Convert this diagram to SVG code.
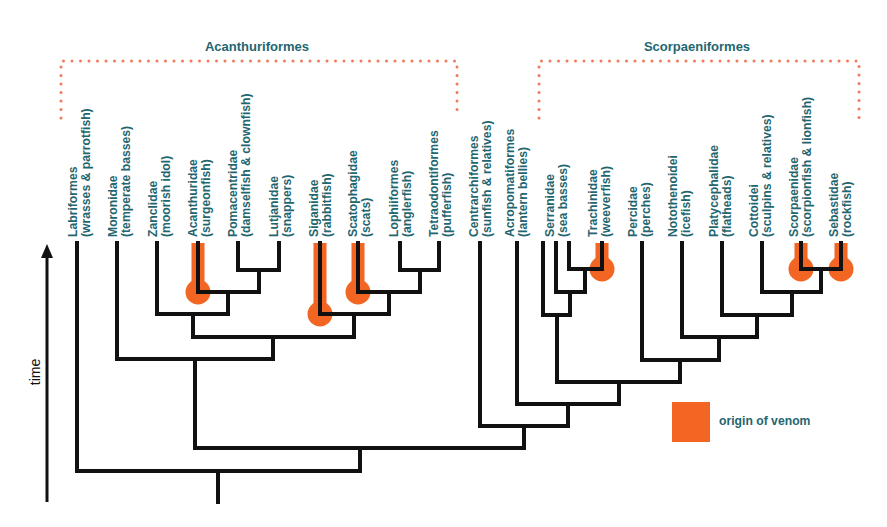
<svg xmlns="http://www.w3.org/2000/svg" width="887" height="527" viewBox="0 0 887 527">
<style>
.t{font-family:"Liberation Sans",Arial,sans-serif;font-weight:bold;font-size:12.2px;fill:#1f6670}
.h{font-family:"Liberation Sans",Arial,sans-serif;font-weight:bold;font-size:13px;fill:#1f6670;text-anchor:middle}
.e{fill:none;stroke:#111;stroke-width:4;stroke-linejoin:miter;stroke-linecap:square}
.v{stroke:#f26522;stroke-width:13;fill:none}
.c{fill:#f26522}
.d{fill:none;stroke:#f07a5a;stroke-width:3;stroke-linecap:round;stroke-dasharray:0 8.5}
</style>
<rect width="887" height="527" fill="#fff"/>
<g id="brackets">
<path class="d" d="M61 118 V61 H457 V118"/>
<path class="d" d="M539 118 V61 H859 V118"/>
<text class="h" x="257" y="51">Acanthuriformes</text>
<text class="h" x="697" y="51">Scorpaeniformes</text>
</g>
<g id="venom">
<path class="v" d="M198 243 V292 M320 243 V314 M358 243 V292 M602 243 V269 M801 243 V269 M841 243 V269"/>
<circle class="c" cx="198" cy="292" r="12.5"/>
<circle class="c" cx="320" cy="314" r="12.5"/>
<circle class="c" cx="358" cy="292" r="12.5"/>
<circle class="c" cx="602" cy="269" r="12.5"/>
<circle class="c" cx="801" cy="269" r="12.5"/>
<circle class="c" cx="841" cy="269" r="12.5"/>
</g>
<g id="connectors">
<path class="e" d="M238 243 V270 H279 V243"/>
<path class="e" d="M198 243 V292 H259 V270"/>
<path class="e" d="M157 243 V314 H228 V292"/>
<path class="e" d="M400 243 V270 H439 V243"/>
<path class="e" d="M358 243 V292 H420 V270"/>
<path class="e" d="M320 243 V314 H389 V292"/>
<path class="e" d="M193 314 V337 H354 V314"/>
<path class="e" d="M117 243 V359 H273 V337"/>
<path class="e" d="M569 243 V269 H602 V243"/>
<path class="e" d="M556 243 V292 H585 V269"/>
<path class="e" d="M543 243 V315 H570 V292"/>
<path class="e" d="M801 243 V269 H841 V243"/>
<path class="e" d="M762 243 V292 H821 V269"/>
<path class="e" d="M722 243 V315 H792 V292"/>
<path class="e" d="M682 243 V337 H757 V315"/>
<path class="e" d="M642 243 V360 H719 V337"/>
<path class="e" d="M557 315 V382 H680 V360"/>
<path class="e" d="M517 243 V404 H619 V382"/>
<path class="e" d="M480 243 V426 H568 V404"/>
<path class="e" d="M195 359 V448 H524 V426"/>
<path class="e" d="M77 243 V471 H360 V448"/>
<path class="e" d="M218 471 V502"/>
</g>
<g id="time">
<path d="M47 502 V256" stroke="#111" stroke-width="3" fill="none"/>
<path d="M47 244 L53 258 L41 258 Z" fill="#111"/>
<text transform="translate(40,372) rotate(-90)" font-family="Liberation Sans,Arial,sans-serif" font-size="14" fill="#111" text-anchor="middle">time</text>
</g>
<g id="legend">
<rect x="672" y="402" width="38" height="40" fill="#f26522"/>
<text class="t" x="719" y="425" font-size="14">origin of venom</text>
</g>
<g id="labels">
<g transform="translate(77,237) rotate(-90)"><text class="t">Labriformes</text><text class="t" y="13">(wrasses &amp; parrotfish)</text></g>
<g transform="translate(117,237) rotate(-90)"><text class="t">Moronidae</text><text class="t" y="13">(temperate basses)</text></g>
<g transform="translate(157,237) rotate(-90)"><text class="t">Zanclidae</text><text class="t" y="13">(moorish idol)</text></g>
<g transform="translate(197,237) rotate(-90)"><text class="t">Acanthuridae</text><text class="t" y="13">(surgeonfish)</text></g>
<g transform="translate(237,237) rotate(-90)"><text class="t">Pomacentridae</text><text class="t" y="13">(damselfish &amp; clownfish)</text></g>
<g transform="translate(278,237) rotate(-90)"><text class="t">Lutjanidae</text><text class="t" y="13">(snappers)</text></g>
<g transform="translate(318,237) rotate(-90)"><text class="t">Siganidae</text><text class="t" y="13">(rabbitfish)</text></g>
<g transform="translate(357,237) rotate(-90)"><text class="t">Scatophagidae</text><text class="t" y="13">(scats)</text></g>
<g transform="translate(398,237) rotate(-90)"><text class="t">Lophiiformes</text><text class="t" y="13">(anglerfish)</text></g>
<g transform="translate(438,237) rotate(-90)"><text class="t">Tetraodontiformes</text><text class="t" y="13">(pufferfish)</text></g>
<g transform="translate(478,237) rotate(-90)"><text class="t">Centrarchiformes</text><text class="t" y="13">(sunfish &amp; relatives)</text></g>
<g transform="translate(514,237) rotate(-90)"><text class="t">Acropomatiformes</text><text class="t" y="13">(lantern bellies)</text></g>
<g transform="translate(554,237) rotate(-90)"><text class="t">Serranidae</text><text class="t" y="13">(sea basses)</text></g>
<g transform="translate(597,237) rotate(-90)"><text class="t">Trachinidae</text><text class="t" y="13">(weeverfish)</text></g>
<g transform="translate(637,237) rotate(-90)"><text class="t">Percidae</text><text class="t" y="13">(perches)</text></g>
<g transform="translate(677,237) rotate(-90)"><text class="t">Notothenoidei</text><text class="t" y="13">(icefish)</text></g>
<g transform="translate(718,237) rotate(-90)"><text class="t">Platycephalidae</text><text class="t" y="13">(flatheads)</text></g>
<g transform="translate(758,237) rotate(-90)"><text class="t">Cottoidei</text><text class="t" y="13">(sculpins &amp; relatives)</text></g>
<g transform="translate(798,237) rotate(-90)"><text class="t">Scorpaenidae</text><text class="t" y="13">(scorpionfish &amp; lionfish)</text></g>
<g transform="translate(838,237) rotate(-90)"><text class="t">Sebastidae</text><text class="t" y="13">(rockfish)</text></g>
</g>
</svg>
